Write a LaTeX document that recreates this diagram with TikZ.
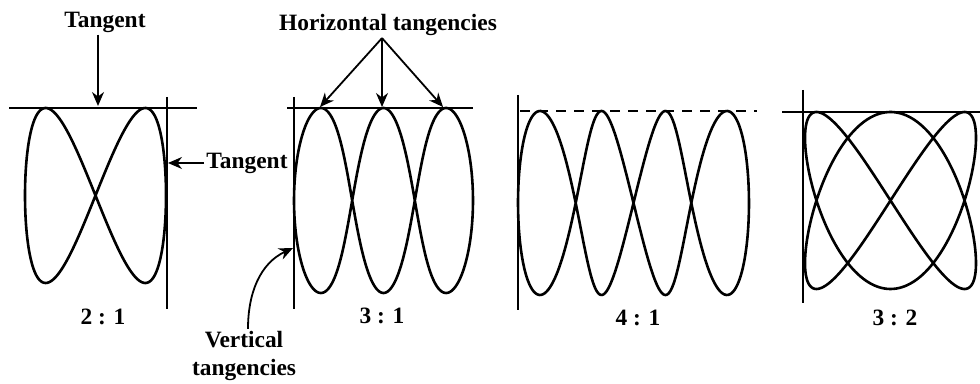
\documentclass[tikz,border=0pt]{standalone}
\usepackage{fontspec}
\setmainfont{Liberation Serif}
\usetikzlibrary{arrows.meta,positioning}

\begin{document}
\begin{tikzpicture}[
    x=0.5pt, y=-0.5pt,
    declare function={wp(\u)=\u*(0.784-0.52*\u*\u+0.736*\u*\u*\u*\u);},
    lbl/.style={font=\fontsize{11.7}{14}\selectfont\bfseries,inner sep=1pt,align=center},
    tline/.style={line width=1pt},
    curve/.style={line width=1.3pt,line join=round},
    arrow/.style={-{Stealth[length=7pt,width=6pt]},line width=0.9pt}
  ]
    \useasboundingbox (0,0) rectangle (980,384);

    % 2:1
    \draw[tline] (9,108) -- (197,108);
    \draw[tline] (167,97) -- (167,309);
    \draw[curve] plot[domain=0:360,samples=240,variable=\t]
      ({95.5+70.5*sin(\t)},{195.5-87.5*sin(2*\t)});
    \node[lbl] (r21) at (103,317) {2 : 1};

    % 3:1
    \draw[tline] (287,108) -- (473,108);
    \draw[tline] (294,97) -- (294,309);
    \draw[curve] plot[domain=0:360,samples=360,variable=\t]
      ({383.5+89.5*wp(sin(\t))},{200.5-92.5*cos(3*\t)});
    \node[lbl] (r31) at (382,316) {3 : 1};

    % 4:1
    \draw[line width=0.7pt,dash pattern=on 5pt off 4pt] (520,111) -- (757,111);
    \draw[tline] (518,95) -- (518,310);
    \draw[curve] plot[domain=0:360,samples=360,variable=\t]
      ({633.5+115.5*wp(sin(\t))},{203-92*sin(4*\t)});
    \node[lbl] (r41) at (638,318) {4 : 1};

    % 3:2
    \draw[tline] (782,112) -- (980,112);
    \draw[tline] (803,90) -- (803,303);
    \draw[curve] plot[domain=0:360,samples=360,variable=\t]
      ({890.5+85.5*sin(2*\t)},{200.5-88.5*sin(3*\t)});
    \node[lbl] (r32) at (895,318) {3 : 2};

    % labels and arrows
    \coordinate (t1) at (98,106);
    \coordinate (t2) at (168,163);
    \coordinate (h1) at (320,107);
    \coordinate (h2) at (382,107);
    \coordinate (h3) at (443,107);
    \coordinate (v1) at (293,248);

    \node[lbl] (tangtop) at (105,22) {Tangent};
    \node[lbl] (tangright) at (247,163) {Tangent};
    \node[lbl] (htang) at (388,25) {Horizontal tangencies};
    \node[lbl] (vtang) at (244,356) {Vertical\\tangencies};

    \draw[arrow] (tangtop.south -| t1) -- (t1);
    \draw[arrow] (tangright.west) -- (t2);
    \draw[arrow] (htang.south -| h2) -- (h1);
    \draw[arrow] (htang.south -| h2) -- (h2);
    \draw[arrow] (htang.south -| h2) -- (h3);
    \draw[arrow] ([xshift=2pt]vtang.north) to[out=90,in=205] (v1);
\end{tikzpicture}
\end{document}
